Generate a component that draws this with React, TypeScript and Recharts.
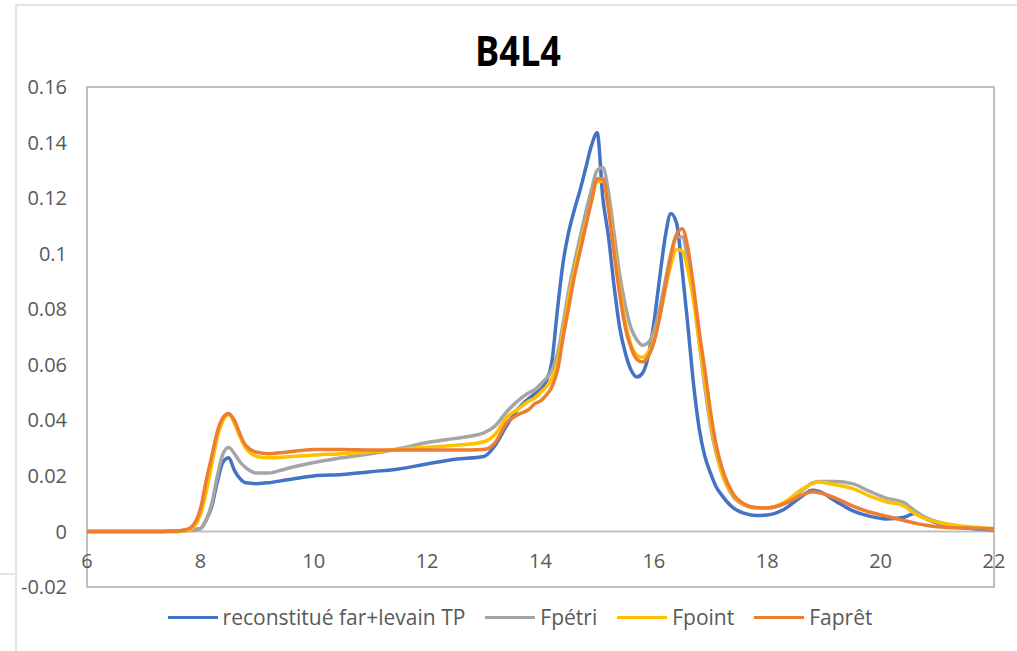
import { LineChart, Line, XAxis, YAxis, ReferenceLine, ReferenceArea } from "recharts";

// retention time grid (min)
const xValues = [
  6, 7, 7.6, 7.8, 8.0, 8.1, 8.2, 8.3, 8.4, 8.5, 8.6, 8.7, 8.8, 9.0, 9.2, 9.5, 10, 10.5, 11, 11.5, 12, 12.5, 13, 13.2,
  13.4, 13.6, 13.8, 13.9, 14.0, 14.1, 14.2, 14.3, 14.4, 14.5, 14.6, 14.7, 14.8, 14.9, 15.0, 15.1, 15.2, 15.3, 15.4,
  15.5, 15.6, 15.7, 15.8, 15.9, 16.0, 16.1, 16.2, 16.3, 16.4, 16.5, 16.6, 16.7, 16.8, 16.9, 17.0, 17.1, 17.2, 17.4,
  17.6, 17.8, 18.0, 18.3, 18.6, 18.8, 18.9, 19.2, 19.5, 19.8, 20.1, 20.4, 20.6, 20.8, 21.0, 21.5, 22,
];

const reconstitue = [
  0, 0, 0.0002, 0.0005, 0.001, 0.004, 0.009, 0.018, 0.025, 0.0265, 0.022, 0.019, 0.0175, 0.0172, 0.0175, 0.0185, 0.02,
  0.0205, 0.0215, 0.0225, 0.0243, 0.026, 0.027, 0.031, 0.038, 0.044, 0.048, 0.0495, 0.051, 0.054, 0.061, 0.08, 0.097,
  0.108, 0.116, 0.123, 0.131, 0.139, 0.1435, 0.12, 0.106, 0.088, 0.073, 0.064, 0.058, 0.0556, 0.057, 0.063, 0.075,
  0.091, 0.106, 0.1145, 0.111, 0.094, 0.074, 0.053, 0.037, 0.027, 0.021, 0.016, 0.013, 0.0085, 0.0065, 0.0057, 0.0059,
  0.008, 0.0125, 0.0148, 0.0145, 0.011, 0.0075, 0.0055, 0.0045, 0.005, 0.0065, 0.0045, 0.003, 0.0012, 0.0005,
];

const fpetri = [
  0, 0, 0, 0.0003, 0.001, 0.004, 0.01, 0.02, 0.028, 0.0302, 0.028, 0.025, 0.023, 0.021, 0.021, 0.0225, 0.0248, 0.0265,
  0.028, 0.0298, 0.032, 0.0335, 0.0355, 0.038, 0.043, 0.047, 0.05, 0.051, 0.053, 0.055, 0.058, 0.064, 0.075, 0.087,
  0.097, 0.106, 0.115, 0.123, 0.13, 0.131, 0.122, 0.107, 0.092, 0.081, 0.073, 0.069, 0.067, 0.068, 0.072, 0.08, 0.09,
  0.1, 0.106, 0.106, 0.098, 0.085, 0.068, 0.052, 0.038, 0.028, 0.021, 0.0125, 0.0095, 0.0085, 0.0085, 0.01, 0.0145,
  0.0175, 0.018, 0.018, 0.0172, 0.0145, 0.012, 0.0105, 0.0075, 0.005, 0.0035, 0.0015, 0.0008,
];

const fpoint = [
  0, 0, 0, 0.0005, 0.006, 0.014, 0.024, 0.034, 0.04, 0.042, 0.039, 0.034, 0.03, 0.027, 0.0265, 0.0268, 0.0275, 0.028,
  0.0287, 0.0295, 0.0303, 0.031, 0.0323, 0.035, 0.041, 0.044, 0.047, 0.048, 0.05, 0.052, 0.055, 0.061, 0.072, 0.084,
  0.094, 0.103, 0.111, 0.119, 0.126, 0.126, 0.117, 0.102, 0.087, 0.075, 0.067, 0.0635, 0.0627, 0.0645, 0.069, 0.077,
  0.087, 0.096, 0.1015, 0.101, 0.094, 0.083, 0.068, 0.054, 0.04, 0.029, 0.021, 0.013, 0.0095, 0.0085, 0.0085, 0.0105,
  0.015, 0.0172, 0.0178, 0.0168, 0.0155, 0.0128, 0.0107, 0.0093, 0.0065, 0.0045, 0.0033, 0.0018, 0.001,
];

const fapret = [
  0, 0, 0.0002, 0.001, 0.008, 0.018, 0.027, 0.036, 0.041, 0.0425, 0.04, 0.035, 0.031, 0.0285, 0.028, 0.0285, 0.0295,
  0.0295, 0.0293, 0.0293, 0.0293, 0.0293, 0.0295, 0.032, 0.039, 0.042, 0.044, 0.046, 0.047, 0.049, 0.052, 0.058, 0.07,
  0.081, 0.092, 0.101, 0.11, 0.119, 0.127, 0.127, 0.116, 0.1, 0.085, 0.073, 0.066, 0.062, 0.061, 0.063, 0.068, 0.077,
  0.088, 0.099, 0.107, 0.109, 0.102, 0.088, 0.072, 0.058, 0.043, 0.031, 0.023, 0.0135, 0.0098, 0.0086, 0.0084, 0.01,
  0.013, 0.0143, 0.014, 0.012, 0.0092, 0.007, 0.0055, 0.004, 0.003, 0.0022, 0.0017, 0.0012, 0.001,
];

const xTicks = [6, 8, 10, 12, 14, 16, 18, 20, 22];
const yTicks = [-0.02, 0, 0.02, 0.04, 0.06, 0.08, 0.1, 0.12, 0.14, 0.16];

const SERIES = [
  { key: "reconstitue", name: "reconstitué far+levain TP", color: "#4472C4" },
  { key: "fpetri", name: "Fpétri", color: "#A5A5A5" },
  { key: "fpoint", name: "Fpoint", color: "#FFC000" },
  { key: "fapret", name: "Faprêt", color: "#ED7D31" },
];

const FONT = "'Open Sans', 'DejaVu Sans', sans-serif";
const AXIS_GRAY = "#BFBFBF";
const LABEL = "#595959";

const data = xValues.map((x, i) => ({
  x,
  reconstitue: reconstitue[i],
  fpetri: fpetri[i],
  fpoint: fpoint[i],
  fapret: fapret[i],
}));

// Excel puts the category labels right under the zero line, not under the plot box
function XTick(props: any) {
  const { x, payload } = props;
  return (
    <text x={x} y={568} textAnchor="middle" fill={LABEL} fontSize={20} fontFamily={FONT}>
      {payload.value}
    </text>
  );
}

export default function App() {
  return (
    <div style={{ position: "absolute", left: 0, top: 0, width: 1017, height: 651, background: "#fff", overflow: "hidden" }}>
      {/* window frame left over from the screenshot */}
      <div style={{ position: "absolute", left: 15, top: 4, right: 0, height: 2, background: "#E3E3E3" }} />
      <div style={{ position: "absolute", left: 15, top: 4, bottom: 0, width: 2, background: "#E3E3E3" }} />
      <div style={{ position: "absolute", left: 0, top: 573, width: 15, height: 2, background: "#E3E3E3" }} />

      <div style={{ position: "absolute", left: 0, top: 22, width: 1036, textAlign: "center" }}>
        <span
          style={{
            display: "inline-block",
            transform: "scaleX(0.86)",
            fontFamily: FONT,
            fontWeight: 700,
            fontSize: 42,
            color: "#000",
            lineHeight: "56px",
          }}
        >
          B4L4
        </span>
      </div>

      <div style={{ position: "absolute", left: 0, top: 0 }}>
        <LineChart width={1017} height={651} data={data} margin={{ top: 87, right: 23, bottom: 34, left: 0 }}>
          <XAxis
            dataKey="x"
            type="number"
            domain={[6, 22]}
            ticks={xTicks}
            interval={0}
            axisLine={false}
            tickLine={false}
            height={30}
            tick={<XTick />}
          />
          <YAxis
            type="number"
            domain={[-0.02, 0.16]}
            ticks={yTicks}
            width={87}
            axisLine={false}
            tickLine={false}
            tickSize={0}
            tickMargin={20}
            tick={{ fill: LABEL, fontSize: 20, fontFamily: FONT }}
            interval={0}
          />
          <ReferenceArea x1={6} x2={22} y1={-0.02} y2={0.16} fill="none" stroke={AXIS_GRAY} strokeWidth={2} />
          <ReferenceLine y={0} stroke={AXIS_GRAY} strokeWidth={2} />
          {SERIES.map((s) => (
            <Line
              key={s.key}
              dataKey={s.key}
              name={s.name}
              type="monotone"
              stroke={s.color}
              strokeWidth={3.5}
              dot={false}
              activeDot={false}
              isAnimationActive={false}
            />
          ))}
        </LineChart>
      </div>

      <div
        style={{
          position: "absolute",
          left: 0,
          top: 603,
          width: 1040,
          display: "flex",
          justifyContent: "center",
          gap: 20,
          fontFamily: FONT,
          fontSize: 21,
          color: LABEL,
          lineHeight: "28px",
        }}
      >
        {SERIES.map((s) => (
          <span key={s.key} style={{ display: "flex", alignItems: "center", gap: 5 }}>
            <span style={{ display: "inline-block", width: 50, height: 3, background: s.color }} />
            {s.name}
          </span>
        ))}
      </div>
    </div>
  );
}
